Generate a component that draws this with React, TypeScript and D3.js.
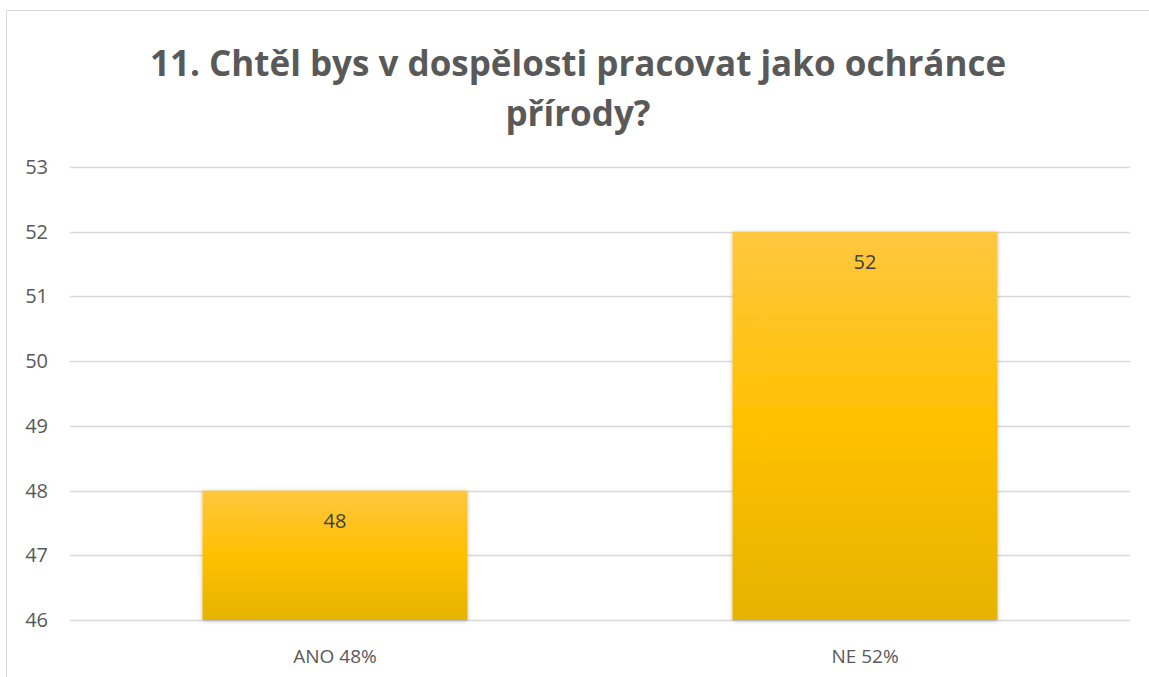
import { useEffect, useRef } from 'react';
import * as d3 from 'd3';

const categories = ['ANO 48%', 'NE 52%'];
const values = [48, 52];
const yTicks = [46, 47, 48, 49, 50, 51, 52, 53];
const titleLines = ['11. Chtěl bys v dospělosti pracovat jako ochránce', 'přírody?'];

const W = 1149;
const H = 677;

export default function App() {
  const svgRef = useRef<SVGSVGElement>(null);

  useEffect(() => {
    if (!svgRef.current) return;
    const svg = d3.select(svgRef.current);
    svg.selectAll('*').remove();

    const margin = { top: 167, right: 19, bottom: 57, left: 70 };
    const width = W - margin.left - margin.right;
    const height = H - margin.top - margin.bottom;
    const font = "'Open Sans', 'Noto Sans', sans-serif";

    // 背景 + 边框
    svg.append('rect').attr('width', W).attr('height', H).attr('fill', '#fff');
    svg.append('path')
      .attr('d', `M6.5,${H} V10.5 H${W}`)
      .attr('fill', 'none')
      .attr('stroke', '#d9d9d9')
      .attr('stroke-width', 1);

    const defs = svg.append('defs');
    const grad = defs.append('linearGradient')
      .attr('id', 'barGrad')
      .attr('x1', 0).attr('y1', 0).attr('x2', 0).attr('y2', 1);
    grad.append('stop').attr('offset', '0%').attr('stop-color', '#ffc73f');
    grad.append('stop').attr('offset', '50%').attr('stop-color', '#ffc000');
    grad.append('stop').attr('offset', '100%').attr('stop-color', '#e5b300');

    const shadow = defs.append('filter').attr('id', 'barShadow')
      .attr('x', '-5%').attr('y', '-5%').attr('width', '110%').attr('height', '110%');
    shadow.append('feDropShadow')
      .attr('dx', 0).attr('dy', 1).attr('stdDeviation', 2)
      .attr('flood-color', '#000').attr('flood-opacity', 0.25);

    // 标题
    svg.append('text')
      .attr('x', 578)
      .attr('y', 76)
      .attr('text-anchor', 'middle')
      .attr('font-family', font)
      .attr('font-weight', 700)
      .attr('font-size', 35)
      .attr('fill', '#595959')
      .selectAll('tspan')
      .data(titleLines)
      .enter()
      .append('tspan')
      .attr('x', 578)
      .attr('dy', (_, i) => (i === 0 ? 0 : 50))
      .text(d => d);

    const g = svg.append('g').attr('transform', `translate(${margin.left},${margin.top})`);

    const x = d3.scaleBand<string>()
      .domain(categories)
      .range([0, width])
      .paddingInner(0.5)
      .paddingOuter(0.25);

    const y = d3.scaleLinear()
      .domain([46, 53])
      .range([height, 0]);

    // 网格
    g.append('g')
      .selectAll('line')
      .data(yTicks)
      .enter()
      .append('line')
      .attr('x1', 0)
      .attr('x2', width)
      .attr('y1', d => Math.round(y(d)) + 0.5)
      .attr('y2', d => Math.round(y(d)) + 0.5)
      .attr('stroke', '#d9d9d9')
      .attr('stroke-width', 1.5);

    // Y 轴标签
    g.append('g')
      .selectAll('text')
      .data(yTicks)
      .enter()
      .append('text')
      .attr('x', -22)
      .attr('y', d => y(d))
      .attr('dy', '0.35em')
      .attr('text-anchor', 'end')
      .attr('font-family', font)
      .attr('font-size', 20)
      .attr('fill', '#595959')
      .text(d => d);

    // 柱子
    g.append('g')
      .selectAll('rect')
      .data(values)
      .enter()
      .append('rect')
      .attr('x', (_, i) => x(categories[i]) as number)
      .attr('y', d => y(d))
      .attr('width', x.bandwidth())
      .attr('height', d => height - y(d))
      .attr('fill', 'url(#barGrad)')
      .attr('filter', 'url(#barShadow)');

    // 数据标签
    g.append('g')
      .selectAll('text')
      .data(values)
      .enter()
      .append('text')
      .attr('x', (_, i) => (x(categories[i]) as number) + x.bandwidth() / 2)
      .attr('y', d => y(d) + 30)
      .attr('dy', '0.35em')
      .attr('text-anchor', 'middle')
      .attr('font-family', font)
      .attr('font-size', 20)
      .attr('fill', '#404040')
      .text(d => d);

    // X 轴标签
    g.append('g')
      .selectAll('text')
      .data(categories)
      .enter()
      .append('text')
      .attr('x', d => (x(d) as number) + x.bandwidth() / 2)
      .attr('y', height + 36)
      .attr('dy', '0.35em')
      .attr('text-anchor', 'middle')
      .attr('font-family', font)
      .attr('font-size', 19)
      .attr('fill', '#595959')
      .text(d => d);
  }, []);

  return (
    <svg
      ref={svgRef}
      width={W}
      height={H}
      style={{ position: 'absolute', left: 0, top: 0, display: 'block' }}
    />
  );
}
